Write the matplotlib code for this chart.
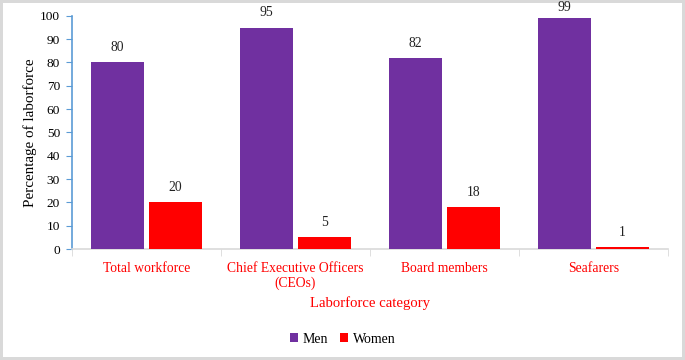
import matplotlib
matplotlib.use("Agg")
import matplotlib.pyplot as plt
import numpy as np

categories = ["Total workforce", "Chief Executive Officers\n(CEOs)", "Board members", "Seafarers"]
men = [80, 95, 82, 99]
women = [20, 5, 18, 1]

COLOR_MEN = "#7030A0"
COLOR_WOMEN = "#FF0000"
AXIS_BLUE = "#5B9BD5"

plt.rcParams["font.family"] = ["Liberation Serif", "DejaVu Serif"]

fig = plt.figure(figsize=(6.85, 3.6), dpi=100)
fig.patch.set_edgecolor("#D9D9D9")
fig.patch.set_linewidth(3)
ax = fig.add_axes([0.105, 0.308, 0.87, 0.648])

x = np.arange(len(categories))
w = 0.36
off = 0.195
b1 = ax.bar(x - off, men, w, color=COLOR_MEN, label="Men", zorder=3)
b2 = ax.bar(x + off, women, w, color=COLOR_WOMEN, label="Women", zorder=3)
for bars, vals in ((b1, men), (b2, women)):
    for bar, v in zip(bars, vals):
        # keep the label inside the figure for the tallest bar
        ax.text(bar.get_x() + bar.get_width() / 2, min(v + 3.5, 100.8), str(v),
                ha="center", va="bottom", fontsize=9.8, color="#222222", clip_on=False)

ax.set_xlim(-0.5, len(categories) - 0.5)
ax.set_ylim(0, 100)
ax.set_yticks(range(0, 101, 10))
ax.tick_params(axis="y", direction="out", length=4.5, color=AXIS_BLUE, labelsize=9.6, pad=4)
ax.set_xticks(x)
ax.set_xticklabels(categories, color=COLOR_WOMEN, fontsize=9.8)
ax.tick_params(axis="x", which="major", length=0, pad=9)
ax.set_xticks(np.arange(-0.5, len(categories)), minor=True)
ax.tick_params(axis="x", which="minor", length=5, color="#D9D9D9", direction="out")

for s in ("top", "right"):
    ax.spines[s].set_visible(False)
ax.spines["left"].set_color(AXIS_BLUE)
ax.spines["left"].set_linewidth(1.2)
ax.spines["bottom"].set_color("#D9D9D9")
ax.spines["bottom"].set_linewidth(1.2)

ax.set_ylabel("Percentage of laborforce", fontsize=10.8, labelpad=2)
ax.set_xlabel("Laborforce category", fontsize=10.6, color=COLOR_WOMEN, labelpad=4)

fig.legend(handles=[b1, b2], loc="center", bbox_to_anchor=(0.5, 0.058), ncol=2,
           frameon=False, fontsize=10, handlelength=0.6, handleheight=0.6,
           handletextpad=0.3, columnspacing=0.9)

fig.savefig("out.png", dpi=100)
